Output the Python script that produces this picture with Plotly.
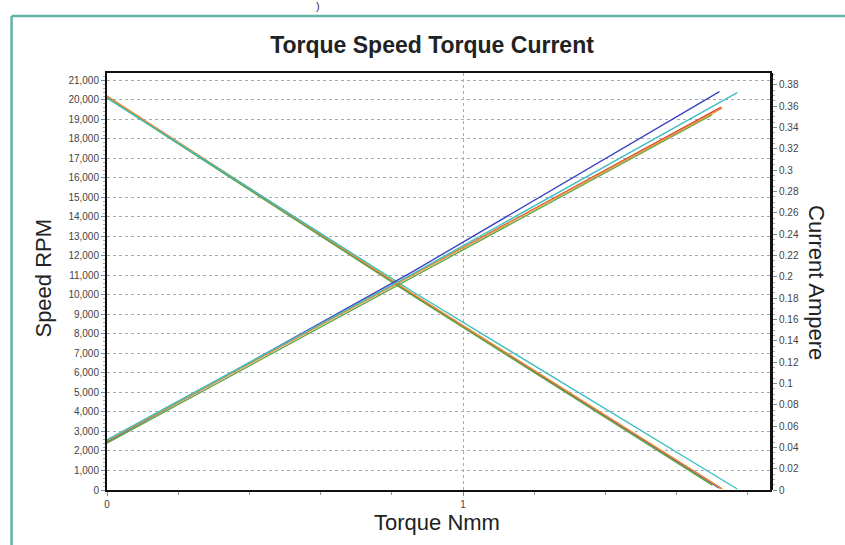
import plotly.graph_objects as go

# ---- data ----
series_names = ["Motor A", "Motor B", "Motor C", "Motor D", "Motor E"]
series_colors = ["#3b44c4", "#d8402e", "#62a646", "#e8963a", "#3dbfc0"]

torque_a = [0.0, 0.86, 1.720]
torque_b = [0.0, 0.86, 1.725]
torque_c = [0.0, 0.86, 1.700]
torque_d = [0.0, 0.86, 1.728]
torque_e = [0.0, 0.86, 1.770]

speed_a = [20150, 10000, 100]
speed_b = [20180, 10020, 80]
speed_c = [20120, 9950, 250]
speed_d = [20200, 10050, 50]
speed_e = [20100, 10150, 50]

current_a = [0.045, 0.205, 0.3735]
current_b = [0.046, 0.202, 0.359]
current_c = [0.044, 0.200, 0.352]
current_d = [0.046, 0.202, 0.358]
current_e = [0.047, 0.203, 0.3725]

torques = [torque_a, torque_b, torque_c, torque_d, torque_e]
speeds = [speed_a, speed_b, speed_c, speed_d, speed_e]
currents = [current_a, current_b, current_c, current_d, current_e]

x_ticks = [0, 1]
x_tick_labels = ["0", "1"]

fig = go.Figure()
for name, col, t, c in zip(series_names, series_colors, torques, currents):
    fig.add_trace(go.Scatter(x=t, y=c, mode="lines", name=name + " current",
                             line=dict(color=col, width=1.4), yaxis="y2",
                             showlegend=False))
for name, col, t, s in zip(series_names, series_colors, torques, speeds):
    fig.add_trace(go.Scatter(x=t, y=s, mode="lines", name=name + " speed",
                             line=dict(color=col, width=1.4),
                             showlegend=False))

font_main = "Liberation Sans, Arial, sans-serif"
grid_col = "#a3acbb"
tick_font = dict(family=font_main, size=10, color="#444")

L, R, T, B = 106.5, 75, 73, 55
W, H = 845, 545
pw, ph = W - L - R, H - T - B


def px(x):
    return (x - L) / pw


def py(y):
    return (H - B - y) / ph


fig.update_layout(
    width=W, height=H,
    margin=dict(l=L, r=R, t=T, b=B),
    paper_bgcolor="white", plot_bgcolor="white",
    font=dict(family=font_main),
    xaxis=dict(range=[0, 1.862], tickvals=x_ticks, ticktext=x_tick_labels,
               showline=True, linecolor="#111", linewidth=2, mirror=True,
               ticks="outside", ticklen=4, tickcolor="#888",
               showgrid=True, gridcolor=grid_col, griddash="dot", gridwidth=1,
               zeroline=False, tickfont=tick_font,
               minor=dict(dtick=0.2, tick0=0, ticks="outside", ticklen=3,
                          tickcolor="#999", showgrid=False)),
    yaxis=dict(range=[0, 21380], dtick=1000, tickformat=",",
               showline=True, linecolor="#111", linewidth=2, mirror=True,
               ticks="outside", ticklen=4, tickcolor="#888",
               showgrid=True, gridcolor=grid_col, griddash="dot", gridwidth=1,
               zeroline=False, tickfont=tick_font,
               minor=dict(dtick=200, ticks="outside", ticklen=2,
                          tickcolor="#aaa", showgrid=False)),
    yaxis2=dict(range=[0, 0.391], dtick=0.02, overlaying="y", side="right",
                showline=True, linecolor="#111", linewidth=3,
                ticks="outside", ticklen=4, tickcolor="#888",
                showgrid=False, zeroline=False, tickfont=tick_font,
                minor=dict(dtick=0.005, ticks="outside", ticklen=2,
                           tickcolor="#aaa")),
    title=dict(text="<b>Torque Speed Torque Current</b>",
               font=dict(family=font_main, size=23, color="#222"),
               x=(432 / W), xanchor="center", y=1 - 45 / H, yanchor="middle"),
    annotations=[
        dict(text="Speed RPM", xref="paper", yref="paper", x=px(42), y=py(278),
             showarrow=False, textangle=-90,
             font=dict(family=font_main, size=22, color="#222"),
             xanchor="center", yanchor="middle"),
        dict(text="Current Ampere", xref="paper", yref="paper", x=px(817),
             y=py(283), showarrow=False, textangle=90,
             font=dict(family=font_main, size=22, color="#222"),
             xanchor="center", yanchor="middle"),
        dict(text="Torque Nmm", xref="paper", yref="paper", x=px(437),
             y=py(522), showarrow=False,
             font=dict(family=font_main, size=22, color="#222"),
             xanchor="center", yanchor="middle"),
        dict(text=")", xref="paper", yref="paper", x=px(318), y=py(6),
             showarrow=False, font=dict(family=font_main, size=11, color="#333"),
             xanchor="center", yanchor="middle"),
    ],
    shapes=[
        dict(type="line", xref="paper", yref="paper",
             x0=px(11), x1=px(845), y0=py(16), y1=py(16),
             line=dict(color="#62b3a3", width=2.5)),
        dict(type="line", xref="paper", yref="paper",
             x0=px(11), x1=px(11), y0=py(16), y1=py(545),
             line=dict(color="#62b3a3", width=2.5)),
    ],
)

fig.write_html("out.html")
